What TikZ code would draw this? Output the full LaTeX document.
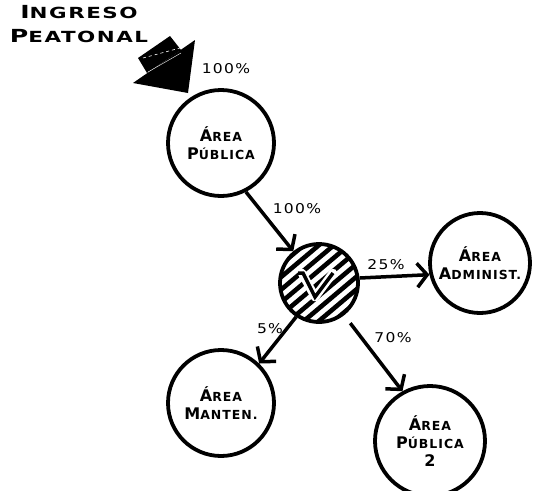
\documentclass[tikz,border=0pt]{standalone}
\usepackage{fontspec}
\setmainfont{DejaVu Sans}
\newfontfamily\headfont[FakeStretch=1.4,LetterSpace=10]{DejaVu Sans}
\newfontfamily\labfont[LetterSpace=8]{DejaVu Sans}
\newfontfamily\pctfont[FakeStretch=1.15,LetterSpace=10]{DejaVu Sans}
\usetikzlibrary{arrows.meta}
\newcommand\sk[2]{#1\scalebox{0.78}{#2}}
\newcommand\hk[2]{#1\scalebox{0.85}{#2}}
\begin{document}
\begin{tikzpicture}[x=1pt,y=-1pt,
  circ/.style={circle,draw,line width=3.8pt,inner sep=0pt},
  lab/.style={font=\labfont\bfseries\fontsize{16}{18}\selectfont,align=center},
  pct/.style={font=\pctfont\fontsize{13.5}{15}\selectfont,inner sep=0pt},
  arr/.style={line width=3.5pt,-{Straight Barb[length=10pt,width=24pt]}}]
\useasboundingbox (0,0) rectangle (535,490);
% heading
\node[font=\headfont\bfseries\fontsize{18}{24}\selectfont,align=center] (head) at (79,24)
  {\hk{I}{NGRESO}\\\hk{P}{EATONAL}};
% entrance arrow
\fill (138,58) -- (170,36) -- (181,50) -- (147,73) -- cycle;
\fill (133,83) -- (195,40) -- (188,93) -- cycle;
\draw[white,dashed,line width=0.6pt] (143,58) -- (180,48);
\draw[white,line width=0.4pt] (148,72) -- (181,53);
\node[pct] (p100a) at (226,69) {100\%};
% hatched hub
\begin{scope}
  \clip (319,283) circle[radius=38pt];
  \foreach \k in {-6,...,6}
    \draw[line width=4.6pt] (319+\k*15-70,283+59) -- ++(140,-118);
\end{scope}
\node[circ,minimum size=78pt] (hub) at (319,283) {};
\draw[white,line width=8.5pt,line join=round,line cap=round] (302,273) -- (315,297) -- (333,273);
\draw[line width=3.5pt,line join=miter] (298,273) -- (303,273) -- (315,297) -- (333,273);
% area nodes
\node[circ,minimum size=106pt,lab] (pub) at (221,143) {\sk{Á}{REA}\\\sk{P}{ÚBLICA}};
\node[circ,minimum size=100pt,lab] (adm) at (480,263) {\sk{Á}{REA}\\\sk{A}{DMINIST.}};
\node[circ,minimum size=106pt,lab] (man) at (221,403) {\sk{Á}{REA}\\\sk{M}{ANTEN.}};
\node[circ,minimum size=110pt,lab] (p2) at (430,441) {\sk{Á}{REA}\\\sk{P}{ÚBLICA}\\2};
% connectors
\draw[arr] (pub.-63) -- (hub.129);
\draw[arr] (hub.7) -- (adm.193);
\draw[arr] (hub.-124) -- (man.46);
\draw[arr,shorten <=10pt] (hub.-52) -- (p2.119);
% labels
\node[pct] (p100b) at (297,209) {100\%};
\node[pct] (p25) at (386,265) {25\%};
\node[pct] (p5) at (270,329) {5\%};
\node[pct] (p70) at (393,338) {70\%};
\end{tikzpicture}
\end{document}
